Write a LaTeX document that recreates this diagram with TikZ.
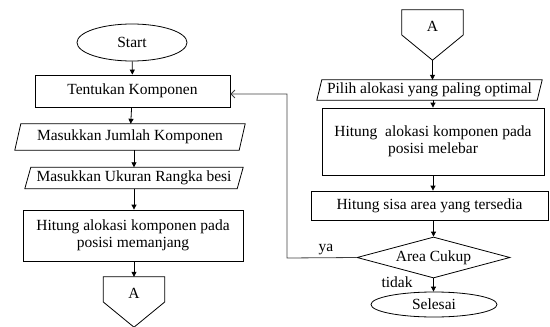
\documentclass[tikz,border=0pt]{standalone}
\usepackage{fontspec}
\setmainfont{Liberation Serif}
\usetikzlibrary{arrows.meta,shapes.geometric,calc}
\begin{document}
\begin{tikzpicture}[x=1pt,y=-1pt,
  lbl/.style={font=\fontsize{15.5}{17}\selectfont, align=center},
  box/.style={draw, line width=0.8pt, lbl, inner sep=0pt},
  pbox/.style={lbl, inner sep=0pt},
  term/.style={draw, line width=0.8pt, ellipse, lbl, inner sep=0pt},
  dec/.style={draw, line width=0.8pt, diamond, aspect=3.7, lbl, inner sep=0pt},
  pent/.style={inner sep=0pt, minimum width=61pt, minimum height=50pt},
  shp/.style={draw, line width=0.8pt},
  arr/.style={-{Triangle[length=5pt,width=5pt]}, line width=0.8pt},
  loop/.style={-{Straight Barb[length=4pt,width=8pt]}, line width=0.8pt, black!75}]
\useasboundingbox (0,0) rectangle (550,327);

% left column
\node[term, minimum width=110pt, minimum height=37pt] (start) at (132,42.5) {Start};
\node[box, minimum width=195pt, minimum height=32pt] (tentukan) at (132.5,91) {Tentukan Komponen};
\node[pbox, minimum width=230pt, minimum height=26pt] (jumlah) at (130,137) {Masukkan Jumlah Komponen};
\draw[shp] ([xshift=6pt]jumlah.north west) -- (jumlah.north east) -- ([xshift=-6pt]jumlah.south east) -- (jumlah.south west) -- cycle;
\node[pbox, minimum width=218pt, minimum height=21pt] (ukuran) at (134,178) {Masukkan Ukuran Rangka besi};
\draw[shp] ([xshift=6pt]ukuran.north west) -- (ukuran.north east) -- ([xshift=-6pt]ukuran.south east) -- (ukuran.south west) -- cycle;
\node[box, minimum width=220pt, minimum height=51pt] (hitung1) at (133,235.5) {Hitung alokasi komponen pada\\posisi memanjang};
\node[pent] (pa) at (134,302) {};
\draw[shp] (pa.north west) -- (pa.north east) -- (pa.east) -- (pa.south) -- (pa.west) -- cycle;
\node[lbl] (pat) at (134,293) {A};

\draw[arr] (start) -- (tentukan);
\draw[arr] (tentukan) -- (jumlah);
\draw[arr] (jumlah.south -| ukuran.north) -- (ukuran.north);
\draw[arr] (ukuran) -- (hitung1.north -| ukuran.south);
\draw[arr] (hitung1.south -| pa.north) -- (pa.north);

% right column
\node[pent] (pb) at (432.5,35) {};
\draw[shp] (pb.north west) -- (pb.north east) -- (pb.east) -- (pb.south) -- (pb.west) -- cycle;
\node[lbl] (pbt) at (432.5,26) {A};
\node[pbox, minimum width=225pt, minimum height=20pt] (pilih) at (429.5,90) {Pilih alokasi yang paling optimal};
\draw[shp] ([xshift=5pt]pilih.north west) -- (pilih.north east) -- ([xshift=-5pt]pilih.south east) -- (pilih.south west) -- cycle;
\node[box, minimum width=222pt, minimum height=67pt] (lebar) at (433,141.5) {Hitung\ \ alokasi komponen pada\\posisi melebar};
\node[box, minimum width=237pt, minimum height=29pt] (sisa) at (429.5,205.5) {Hitung sisa area yang tersedia};
\node[dec, minimum width=153pt, minimum height=41pt] (cukup) at (433.5,257.5) {Area Cukup};
\node[term, minimum width=126pt, minimum height=25pt] (selesai) at (434,304.5) {Selesai};

\draw[arr] (pb.south) -- (pilih.north -| pb.south);
\draw[arr] (pilih.south -| lebar.north) -- (lebar.north);
\draw[arr] (lebar.south) -- (sisa.north -| lebar.south);
\draw[arr] (sisa.south -| cukup.north) -- (cukup.north);
\draw[arr] (cukup.south) -- (selesai.north -| cukup.south);

% loop back
\coordinate (c1) at (287,258);
\coordinate (c2) at (287,94);
\draw[loop] (cukup.west) -- (c1) -- (c2) -- (c2 -| tentukan.east);
\node[lbl] (ya) at (326,250) {ya};
\node[lbl] (tidak) at (397,282) {tidak};
\end{tikzpicture}
\end{document}
